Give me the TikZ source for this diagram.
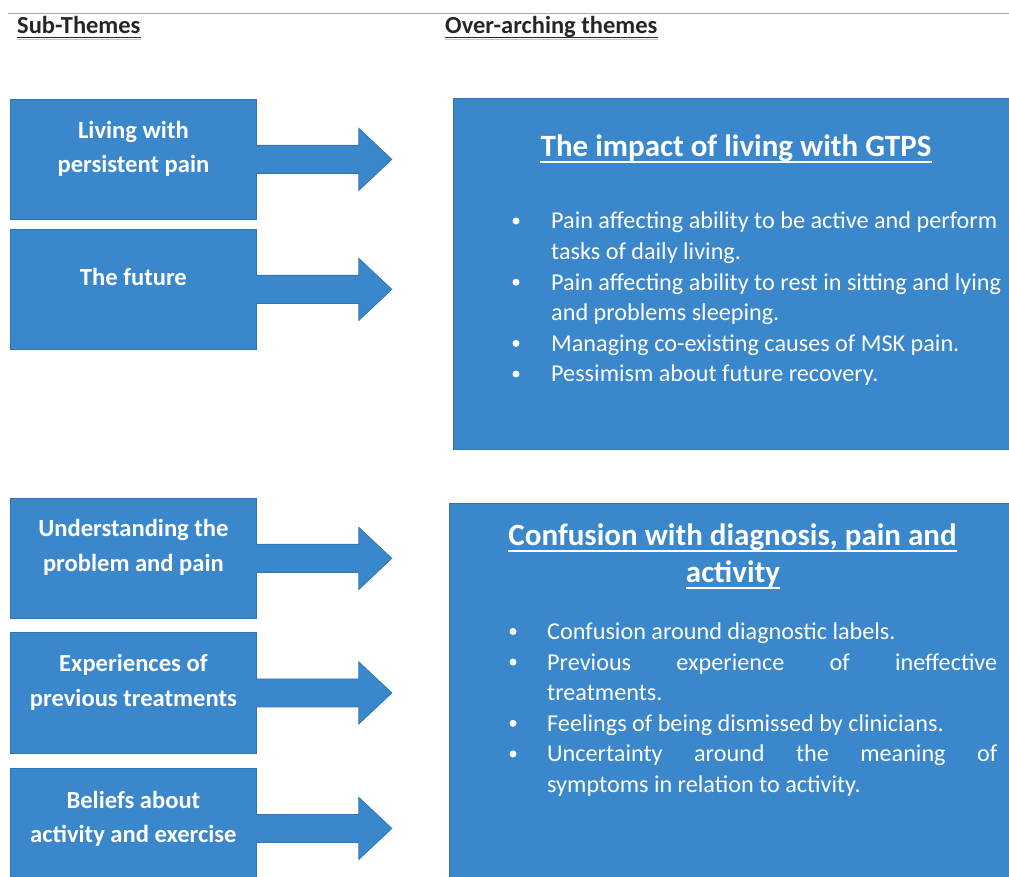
\documentclass[tikz,border=0pt]{standalone}
\usepackage{fontspec}
\setmainfont{Carlito}
\usetikzlibrary{calc}
\definecolor{boxblue}{HTML}{3A87CC}
\definecolor{boxedge}{HTML}{2F74B5}
\definecolor{rulegray}{HTML}{A6A6A6}
\definecolor{headgray}{HTML}{262626}
\newcommand\subarrow[1]{%
  \filldraw[blockarrow] ($(#1.east)+(-1,14)$) -- ($(#1.east)+(102,14)$) -- ($(#1.east)+(102,31)$)
    -- ($(#1.east)+(135,0)$) -- ($(#1.east)+(102,-31)$) -- ($(#1.east)+(102,-14)$) -- ($(#1.east)+(-1,-14)$);}
\newcommand\ulnode[1]{%
  \draw[uline] ($(#1.base west)+(0,-5)$) -- ($(#1.base east)+(0,-5)$);}
\begin{document}
\begin{tikzpicture}[x=1pt,y=1pt,
  subbox/.style={fill=boxblue, draw=boxedge, line width=0.8pt, minimum width=246pt, minimum height=120pt, inner sep=0pt, anchor=north west},
  themebox/.style={fill=boxblue, draw=boxedge, line width=0.8pt, inner sep=0pt, anchor=north west},
  subtext/.style={text=white, font=\fontsize{24.6}{29}\selectfont\bfseries, inner sep=0pt, anchor=base},
  titletext/.style={text=white, font=\fontsize{31}{37}\selectfont\bfseries, inner sep=0pt, anchor=base},
  btext/.style={text=white, font=\fontsize{24.2}{29}\selectfont, inner sep=0pt, anchor=base west},
  bdot/.style={circle, fill=white, inner sep=0pt, minimum size=7pt},
  blockarrow/.style={fill=boxblue, draw=boxedge, line width=0.8pt, line join=miter},
  headtext/.style={text=headgray, font=\fontsize{24.5}{29}\selectfont\bfseries, inner sep=0pt, anchor=base west},
  uline/.style={white, line width=2pt},
]
\useasboundingbox (0,0) rectangle (1009,876);

% top rule and headings
\coordinate (rl) at (8,862);
\coordinate (rr) at (1009,862);
\draw[rulegray, line width=1pt] (rl) -- (rr);
\node[headtext] (h1) at (17,842) {Sub-Themes};
\node[headtext] (h2) at (445,842) {Over-arching themes};
\foreach \h in {h1,h2}{
  \draw[gray!45, line width=1.6pt] ($(\h.base west)+(0,-5.5)$) -- ($(\h.base east)+(0,-5.5)$);
  \draw[headgray, line width=1.3pt] ($(\h.base west)+(0,-3.5)$) -- ($(\h.base east)+(0,-3.5)$);
}

% sub-theme boxes
\node[subbox] (b1) at (10,777) {};
\node[subbox] (b2) at (10,647) {};
\node[subbox] (b3) at (10,378) {};
\node[subbox, minimum height=121pt] (b4) at (10,244) {};
\node[subbox] (b5) at (10,108) {};

\subarrow{b1}
\subarrow{b2}
\subarrow{b3}
\subarrow{b4}
\subarrow{b5}

\node[subtext] (t1a) at ($(b1.north)+(0,-40)$) {Living with};
\node[subtext] (t1b) at ($(b1.north)+(0,-74)$) {persistent pain};
\node[subtext] (t2a) at ($(b2.north)+(0,-57)$) {The future};
\node[subtext] (t3a) at ($(b3.north)+(0,-39)$) {Understanding the};
\node[subtext] (t3b) at ($(b3.north)+(0,-74)$) {problem and pain};
\node[subtext] (t4a) at ($(b4.north)+(0,-39)$) {Experiences of};
\node[subtext] (t4b) at ($(b4.north)+(0,-74)$) {previous treatments};
\node[subtext] (t5a) at ($(b5.north)+(0,-40)$) {Beliefs about};
\node[subtext] (t5b) at ($(b5.north)+(0,-74)$) {activity and exercise};

% over-arching theme boxes
\node[themebox, minimum width=560pt, minimum height=351pt] (A) at (453,778) {};
\node[themebox, minimum width=564pt, minimum height=390pt] (B) at (449,373) {};

\node[titletext] (ta) at (736,719) {The impact of living with GTPS};
\ulnode{ta}
\node[titletext] (tb1) at (732.5,330) {Confusion with diagnosis, pain and};
\ulnode{tb1}
\node[titletext] (tb2) at (733,293) {activity};
\ulnode{tb2}

% bullets, box A
\node[bdot] (da1) at (516,655) {};
\node[btext] (a1) at (551,647) {Pain affecting ability to be active and perform};
\node[btext] (a1b) at (551,616.4) {tasks of daily living.};
\node[bdot] (da2) at (516,593.8) {};
\node[btext] (a2) at (551,585.8) {Pain affecting ability to rest in sitting and lying};
\node[btext] (a2b) at (551,555.2) {and problems sleeping.};
\node[bdot] (da3) at (516,532.6) {};
\node[btext] (a3) at (551,524.6) {Managing co-existing causes of MSK pain.};
\node[bdot] (da4) at (516,502) {};
\node[btext] (a4) at (551,494) {Pessimism about future recovery.};

% bullets, box B
\node[bdot] (db1) at (513,244.5) {};
\node[btext] (c1) at (547,236.5) {Confusion around diagnostic labels.};
\node[bdot] (db2) at (513,213.9) {};
\node[btext] (c2) at (547,205.9) {\makebox[450pt][s]{Previous experience of ineffective}};
\node[btext] (c2b) at (547,175.3) {treatments.};
\node[bdot] (db3) at (513,152.7) {};
\node[btext] (c3) at (547,144.7) {Feelings of being dismissed by clinicians.};
\node[bdot] (db4) at (513,122.1) {};
\node[btext] (c4) at (547,114.1) {\makebox[450pt][s]{Uncertainty around the meaning of}};
\node[btext] (c4b) at (547,83.5) {symptoms in relation to activity.};
\end{tikzpicture}
\end{document}
